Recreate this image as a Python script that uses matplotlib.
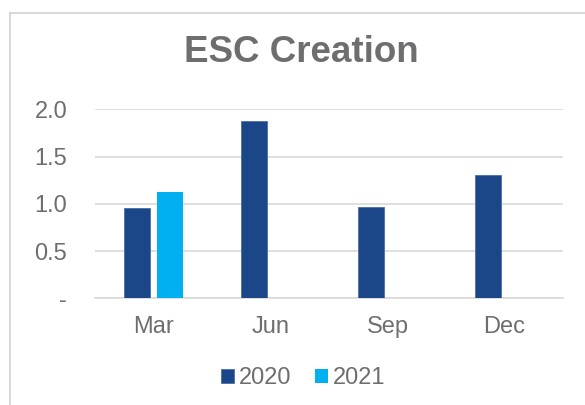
import numpy as np
import matplotlib
matplotlib.use('Agg')
import matplotlib.pyplot as plt
from matplotlib.lines import Line2D

plt.rcParams['font.family'] = ['Liberation Sans', 'DejaVu Sans']

categories = ['Mar', 'Jun', 'Sep', 'Dec']
values_2020 = [0.96, 1.88, 0.97, 1.31]
values_2021 = [1.13, 0, 0, 0]
series_names = ['2020', '2021']
ytick_values = [0, 0.5, 1.0, 1.5, 2.0]
ytick_labels = ['-', '0.5', '1.0', '1.5', '2.0']

dark = '#1B4687'
light = '#00B0F0'
grey_text = '#6E6E70'
grid = '#D9D9D9'

fig = plt.figure(figsize=(5.85, 4.05), dpi=100)
ax = fig.add_axes([95 / 585, 1 - 298.3 / 405, (563 - 95) / 585, (298.3 - 109.3) / 405])

x = np.arange(len(categories))
w = 0.222
off = 0.14
ax.bar(x - off, values_2020, w, color=dark, edgecolor='#4a6ea3', linewidth=0.6, label=series_names[0], zorder=3)
ax.bar(x + off, values_2021, w, color=light, label=series_names[1], zorder=3)

ax.set_xlim(-0.5, len(categories) - 0.5)
ax.set_ylim(0, 2.0)
ax.set_yticks(ytick_values)
ax.set_yticklabels(ytick_labels)
ax.set_xticks(x)
ax.set_xticklabels(categories)
ax.yaxis.grid(True, color=grid, linewidth=1.2, zorder=0)
ax.set_axisbelow(True)
for s in ['top', 'right', 'left']:
    ax.spines[s].set_visible(False)
ax.spines['bottom'].set_color(grid)
ax.spines['bottom'].set_linewidth(1.2)
ax.tick_params(axis='both', length=0, colors=grey_text)
ax.tick_params(axis='y', labelsize=17, pad=20)
ax.tick_params(axis='x', labelsize=17, pad=13)

fig.text(301 / 585, 1 - 53 / 405, 'ESC Creation', ha='center', va='center',
         fontsize=26.5, fontweight='bold', color=grey_text)

leg = fig.legend(loc='center', bbox_to_anchor=(303 / 585, 1 - 378 / 405), ncol=2, frameon=False,
                 fontsize=17, handlelength=0.55, handleheight=0.55, handletextpad=0.2,
                 columnspacing=1.0, labelcolor=grey_text)

# chart area border
fig.add_artist(Line2D([9.5 / 585, 9.5 / 585], [0, 1 - 13 / 405], color=grid, linewidth=1.5))
fig.add_artist(Line2D([9.5 / 585, 1], [1 - 13 / 405, 1 - 13 / 405], color=grid, linewidth=1.5))

fig.savefig('out.png', dpi=100)
